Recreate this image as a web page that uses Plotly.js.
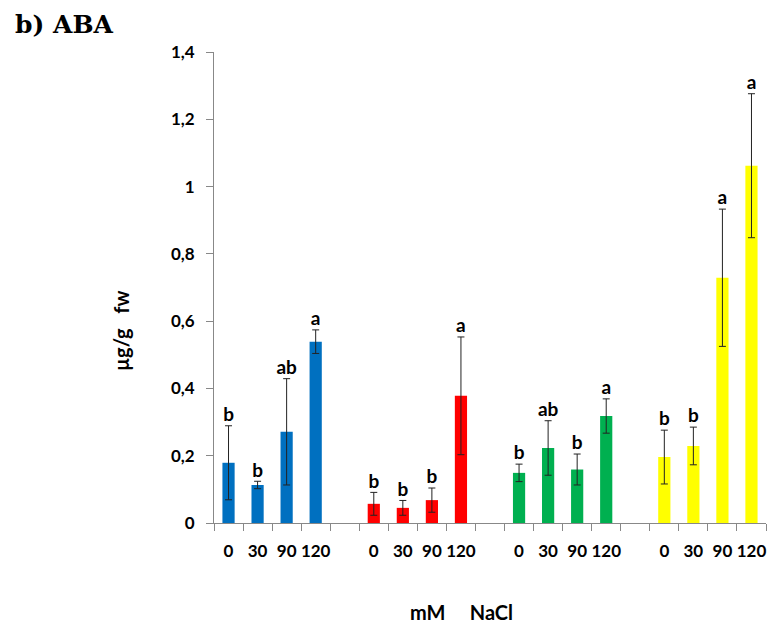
<!DOCTYPE html>
<html>
<head>
<meta charset="utf-8">
<script src="https://cdn.plot.ly/plotly-3.0.1.min.js"></script>
<style>html,body{margin:0;padding:0;background:#fff;}#chart{width:767px;height:634px;}</style>
</head>
<body>
<div id="chart"></div>
<script>
// Data
const concentrations = ['0', '30', '90', '120'];
const blueValues   = [0.179, 0.113, 0.271, 0.539];
const blueErrors   = [0.110, 0.011, 0.158, 0.035];
const blueLetters  = ['b', 'b', 'ab', 'a'];
const redValues    = [0.057, 0.045, 0.068, 0.378];
const redErrors    = [0.034, 0.022, 0.036, 0.175];
const redLetters   = ['b', 'b', 'b', 'a'];
const greenValues  = [0.149, 0.223, 0.159, 0.318];
const greenErrors  = [0.026, 0.081, 0.046, 0.051];
const greenLetters = ['b', 'ab', 'b', 'a'];
const yellowValues = [0.196, 0.229, 0.729, 1.062];
const yellowErrors = [0.080, 0.056, 0.204, 0.214];
const yellowLetters= ['b', 'b', 'a', 'a'];
const yTickValues  = [0, 0.2, 0.4, 0.6, 0.8, 1, 1.2, 1.4];

const groups = [
  {vals: blueValues, errs: blueErrors, letters: blueLetters, color: '#0070C0'},
  {vals: redValues, errs: redErrors, letters: redLetters, color: '#FF0000'},
  {vals: greenValues, errs: greenErrors, letters: greenLetters, color: '#00B050'},
  {vals: yellowValues, errs: yellowErrors, letters: yellowLetters, color: '#FFFF00'}
];

const FONT = 'Lato, "Open Sans", sans-serif';
const traces = [];
const tickvals = [], ticktext = [];
const boundaries = [];
groups.forEach((g, gi) => {
  const xs = concentrations.map((c, i) => gi * 5 + i);
  xs.forEach((x, i) => { tickvals.push(x); ticktext.push(concentrations[i]); });
  traces.push({
    type: 'bar', x: xs, y: g.vals, width: 0.42,
    marker: {color: g.color, line: {width: 0}},
    error_y: {type: 'data', array: g.errs, visible: true, color: '#222', thickness: 1, width: 3.5},
    hoverinfo: 'none', showlegend: false
  });
  traces.push({
    type: 'scatter', mode: 'text', x: xs,
    y: g.vals.map((v, i) => v + g.errs[i]),
    text: g.letters, textposition: 'top center',
    textfont: {family: FONT, size: 19, color: '#000', weight: 'bold'},
    hoverinfo: 'none', showlegend: false, cliponaxis: false
  });
});
for (let b = -0.5; b <= 18.5; b += 1) boundaries.push(b);

const layout = {
  width: 767, height: 634,
  margin: {l: 214, r: 1, t: 52, b: 111},
  paper_bgcolor: '#fff', plot_bgcolor: '#fff',
  separators: ',.',
  title: {
    text: '<b>b) ABA</b>', xref: 'container', yref: 'container',
    x: 15 / 767, xanchor: 'left', y: 1 - 24 / 634, yanchor: 'middle',
    font: {family: '"DejaVu Serif", "Liberation Serif", serif', size: 25, color: '#000'}
  },
  xaxis: {
    range: [-0.5, 18.5], showgrid: false, zeroline: false,
    showline: true, linecolor: '#888', linewidth: 1,
    tickmode: 'array', tickvals: tickvals, ticktext: ticktext,
    ticks: '', ticklen: 0, ticklabelstandoff: 13,
    tickfont: {family: FONT, size: 17, color: '#000', weight: 'bold'},
    minor: {tickmode: 'array', tickvals: boundaries, ticks: 'outside', ticklen: 7, tickcolor: '#888', tickwidth: 1, showgrid: false},
    fixedrange: true
  },
  yaxis: {
    range: [0, 1.4], showgrid: false, zeroline: false,
    showline: true, linecolor: '#888', linewidth: 1,
    tickmode: 'array', tickvals: yTickValues,
    ticks: 'outside', ticklen: 7, tickcolor: '#888', ticklabelstandoff: 8,
    tickfont: {family: FONT, size: 17, color: '#000', weight: 'bold'},
    fixedrange: true
  },
  annotations: [
    {text: '<b>µg/g\u00A0\u00A0\u00A0fw</b>', xref: 'paper', yref: 'paper', x: -0.168, y: 0.408,
     xanchor: 'center', yanchor: 'middle', textangle: -90, showarrow: false,
     font: {family: FONT, size: 20, color: '#000'}},
    {text: '<b>mM\u00A0\u00A0\u00A0\u00A0\u00A0NaCl</b>', xref: 'paper', yref: 'paper', x: (461 - 214) / 552, y: -(612 - 523) / 471,
     xanchor: 'center', yanchor: 'middle', showarrow: false,
     font: {family: FONT, size: 20, color: '#000'}}
  ]
};

Plotly.newPlot('chart', traces, layout, {displayModeBar: false, staticPlot: true});
</script>
</body>
</html>
